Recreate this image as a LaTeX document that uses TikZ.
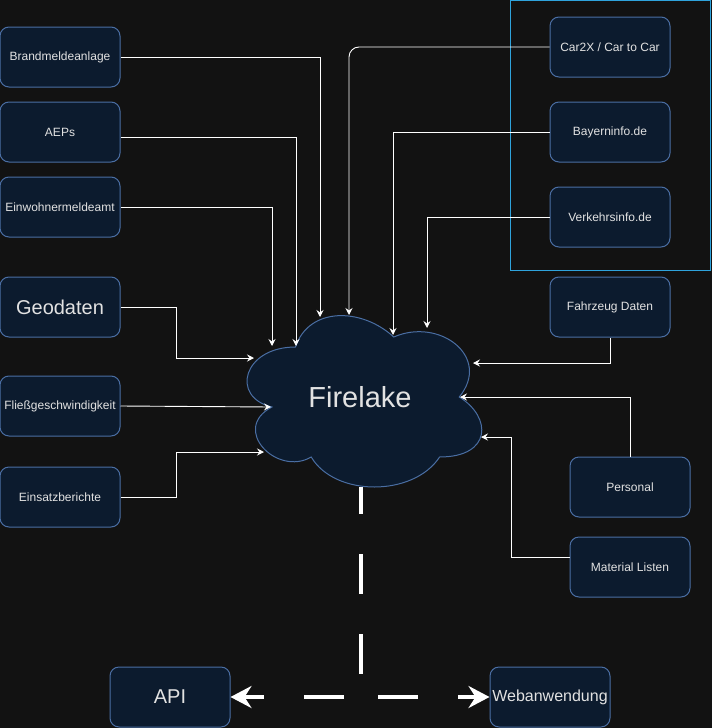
\documentclass[tikz,border=0pt]{standalone}
\usepackage{fontspec}
\setmainfont{Liberation Sans}
\usepackage{tikz}
\usetikzlibrary{arrows.meta}

\definecolor{bgdark}{HTML}{121212}
\definecolor{boxfill}{HTML}{0C1B2E}
\definecolor{boxline}{HTML}{4A6EA3}
\definecolor{groupline}{HTML}{2FA3DC}
\definecolor{boxtext}{HTML}{E2E2E2}

\begin{document}
\begin{tikzpicture}[x=1pt, y=-1pt,
	source/.style={draw=boxline, fill=boxfill, line width=1pt, rounded corners=9pt, minimum width=120pt, minimum height=60pt, inner sep=0pt, text=boxtext, font=\fontsize{12}{14}\selectfont},
	flow/.style={draw=white, line width=0.9pt, -{Stealth[length=7pt, width=7pt, inset=2.5pt]}},
	outflow/.style={draw=white, line width=4pt, dash pattern=on 40pt off 40pt, dash phase=13pt, -{Stealth[length=21pt, width=22pt, inset=7pt]}}]
	\useasboundingbox (0,0) rectangle (712,728);
	\fill[bgdark] (0,0) rectangle (712,728);

	\draw[groupline, line width=1pt] (510.5,0.5) rectangle (710.5,270);	% group of traffic sources

	\node[source] (brand) at (60,57) {Brandmeldeanlage};	% left sources
	\node[source] (aep) at (60,132) {AEPs};
	\node[source] (ewo) at (60,207) {Einwohnermeldeamt};
	\node[source, font=\fontsize{20}{24}\selectfont] (geo) at (60,307) {Geodaten};
	\node[source] (fliess) at (60,406) {Fließgeschwindigkeit};
	\node[source] (einsatz) at (60,497) {Einsatzberichte};

	\node[source] (car) at (610,47) {Car2X / Car to Car};	% right sources
	\node[source] (bayern) at (610,132) {Bayerninfo.de};
	\node[source] (verkehr) at (610,217) {Verkehrsinfo.de};
	\node[source] (fzg) at (610,307) {Fahrzeug Daten};
	\node[source] (pers) at (630,487) {Personal};
	\node[source] (mat) at (630,567) {Material Listen};

	\node[source, font=\fontsize{20}{24}\selectfont] (api) at (170,697) {API};	% outputs
	\node[source, font=\fontsize{16}{19}\selectfont] (web) at (550,697) {Webanwendung};

	\begin{scope}[shift={(230,297)}, x=262pt, y=-200pt]	% cloud
		\filldraw[draw=boxline, fill=boxfill, line width=1pt] (0.25,0.25) .. controls (0.05,0.25) and (0,0.5) .. (0.16,0.55)
			.. controls (0,0.66) and (0.18,0.9) .. (0.31,0.8)
			.. controls (0.4,1) and (0.7,1) .. (0.8,0.8)
			.. controls (1,0.8) and (1,0.6) .. (0.875,0.5)
			.. controls (1,0.3) and (0.8,0.1) .. (0.625,0.2)
			.. controls (0.5,0.05) and (0.3,0.05) .. (0.25,0.25) -- cycle;
	\end{scope}
	\node[text=boxtext, font=\fontsize{29}{34}\selectfont] (lake) at (360,397) {Firelake};

	\coordinate (inBrand) at (320,317);	% points on the cloud
	\coordinate (inAep) at (296,346);
	\coordinate (inEwo) at (272,346);
	\coordinate (inGeo) at (254,358);
	\coordinate (inFliess) at (271,407);
	\coordinate (inEinsatz) at (264,452);
	\coordinate (inCar) at (349,315);
	\coordinate (inBayern) at (393,335);
	\coordinate (inVerkehr) at (427,328);
	\coordinate (inFzg) at (473,363);
	\coordinate (inPers) at (460,397);
	\coordinate (inMat) at (481,437);
	\coordinate (lakeOut) at (361,487);
	\coordinate (split) at (361,697);

	\draw[flow] (brand.east) -| (inBrand);	% left connectors
	\draw[flow] ([yshift=-5pt]aep.east) -| (inAep);
	\draw[flow] (ewo.east) -| (inEwo);
	\draw[flow] (geo.east) -| (176,358) -- (inGeo);
	\draw[flow] (fliess.east) -- (inFliess);
	\draw[flow] (einsatz.east) -| (176,452) -- (inEinsatz);

	\draw[flow, rounded corners=10pt] (car.west) -| (inCar);	% right connectors
	\draw[flow] (bayern.west) -| (inBayern);
	\draw[flow] (verkehr.west) -| (inVerkehr);
	\draw[flow] (fzg.south) |- (inFzg);
	\draw[flow] (pers.north) |- (inPers);
	\draw[flow] ([yshift=10pt]mat.west) -| (511,437) -- (inMat);

	\draw[outflow] (lakeOut) -- (split) -- (api.east);	% outputs
	\draw[outflow] (lakeOut) -- (split) -- (web.west);
\end{tikzpicture}
\end{document}
